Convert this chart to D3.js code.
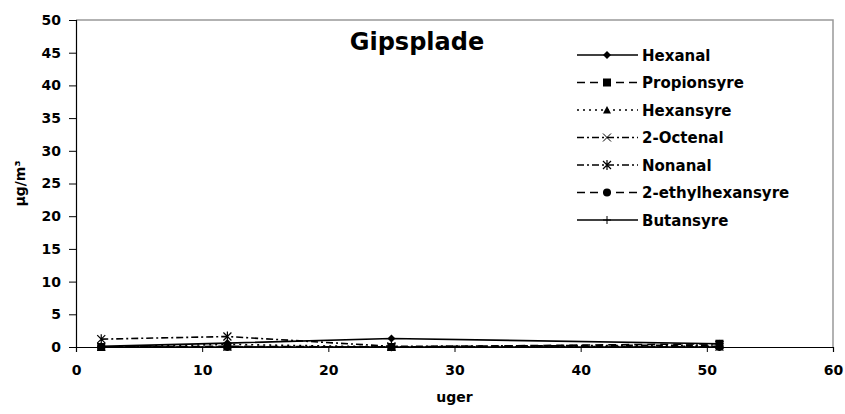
<!DOCTYPE html>
<html>
<head>
<meta charset="utf-8">
<script src="https://cdn.jsdelivr.net/npm/d3@7"></script>
<style>
  body { margin: 0; background: #fff; }
  text { font-family: "DejaVu Sans", Arial, sans-serif; font-weight: bold; }
</style>
</head>
<body>
<svg id="chart" width="845" height="414"></svg>
<script>
// weeks measured
const weeks = [2, 12, 25, 51];

// series values (µg/m³)
const hexanal = [0.1, 0.6, 1.3, 0.5];
const propionsyre = [0.0, 0.1, 0.0, 0.5];
const hexansyre = [0.0, 0.4, 0.0, 0.1];
const octenal = [0.0, 0.0, 0.0, 0.0];
const nonanal = [1.2, 1.6, 0.1, 0.3];
const ethylhexansyre = [0.0, 0.0, 0.0, 0.0];
const butansyre = [0.0, 0.0, 0.0, 0.0];

const xTicks = [0, 10, 20, 30, 40, 50, 60];
const yTicks = [0, 5, 10, 15, 20, 25, 30, 35, 40, 45, 50];

const series = [
  { name: "Hexanal", values: hexanal, dash: null, marker: "diamond" },
  { name: "Propionsyre", values: propionsyre, dash: "8,5", marker: "square" },
  { name: "Hexansyre", values: hexansyre, dash: "2,4", marker: "triangle" },
  { name: "2-Octenal", values: octenal, dash: "7,3,2,3", marker: "x" },
  { name: "Nonanal", values: nonanal, dash: "7,3,2,3", marker: "star" },
  { name: "2-ethylhexansyre", values: ethylhexansyre, dash: "8,5", marker: "circle" },
  { name: "Butansyre", values: butansyre, dash: null, marker: "plus" }
];

const svg = d3.select("#chart");
const margin = { top: 20, right: 12, bottom: 67, left: 76 };
const W = 845, H = 414;
const x = d3.scaleLinear().domain([0, 60]).range([margin.left, W - margin.right]);
const y = d3.scaleLinear().domain([0, 50]).range([H - margin.bottom, margin.top]);

// plot frame (gray top & right)
svg.append("path")
  .attr("d", `M${x(0)},${y(50)}H${x(60)}V${y(0)}`)
  .attr("fill", "none").attr("stroke", "#999").attr("stroke-width", 1.5);

// axes
const yAxis = svg.append("g")
  .attr("transform", `translate(${x(0)},0)`)
  .call(d3.axisLeft(y).tickValues(yTicks).tickSize(7).tickPadding(8));
const xAxis = svg.append("g")
  .attr("transform", `translate(0,${y(0)})`)
  .call(d3.axisBottom(x).tickValues(xTicks).tickSize(5).tickPadding(13));
[xAxis, yAxis].forEach(a => {
  a.select(".domain").attr("stroke", "#000").attr("stroke-width", 1.2);
  a.selectAll(".tick line").attr("stroke", "#000");
  a.selectAll(".tick text").attr("font-size", 14).attr("fill", "#000")
    .style("font-family", "DejaVu Sans, Arial, sans-serif").style("font-weight", "bold");
});

// axis titles
svg.append("text").attr("x", (x(0) + x(60)) / 2).attr("y", 402)
  .attr("text-anchor", "middle").attr("font-size", 14).text("uger");
svg.append("text")
  .attr("transform", `translate(25,${(y(0) + y(50)) / 2}) rotate(-90)`)
  .attr("text-anchor", "middle").attr("font-size", 14)
  .text("µg/m³");

// chart title
svg.append("text").attr("x", 417).attr("y", 50)
  .attr("text-anchor", "middle").attr("font-size", 24).text("Gipsplade");

function drawMarker(g, type, cx, cy) {
  const s = 4;
  if (type === "diamond") {
    g.append("path").attr("d", `M${cx},${cy - s}L${cx + s},${cy}L${cx},${cy + s}L${cx - s},${cy}Z`).attr("fill", "#000");
  } else if (type === "square") {
    g.append("rect").attr("x", cx - s).attr("y", cy - s).attr("width", 2 * s).attr("height", 2 * s).attr("fill", "#000");
  } else if (type === "triangle") {
    g.append("path").attr("d", `M${cx},${cy - s}L${cx + s},${cy + s - 0.5}L${cx - s},${cy + s - 0.5}Z`).attr("fill", "#000");
  } else if (type === "circle") {
    g.append("circle").attr("cx", cx).attr("cy", cy).attr("r", s).attr("fill", "#000");
  } else if (type === "x") {
    g.append("path").attr("d", `M${cx - s},${cy - s}L${cx + s},${cy + s}M${cx - s},${cy + s}L${cx + s},${cy - s}`).attr("stroke", "#000").attr("stroke-width", 1);
  } else if (type === "star") {
    g.append("path").attr("d", `M${cx - s},${cy - s}L${cx + s},${cy + s}M${cx - s},${cy + s}L${cx + s},${cy - s}M${cx},${cy - s - 1}V${cy + s + 1}`).attr("stroke", "#000").attr("stroke-width", 1.2);
  } else if (type === "plus") {
    g.append("path").attr("d", `M${cx - s},${cy}H${cx + s}M${cx},${cy - s}V${cy + s}`).attr("stroke", "#000").attr("stroke-width", 1);
  }
}

const line = d3.line().x((d, i) => x(weeks[i])).y(d => y(d));

// lines & markers
series.forEach(s => {
  const g = svg.append("g");
  g.append("path").attr("d", line(s.values))
    .attr("fill", "none").attr("stroke", "#000").attr("stroke-width", 1.6)
    .attr("stroke-dasharray", s.dash);
  s.values.forEach((v, i) => drawMarker(g, s.marker, x(weeks[i]), y(v)));
});

// legend
const legend = svg.append("g");
series.forEach((s, i) => {
  const ly = 55 + i * 27.5;
  const g = legend.append("g");
  g.append("line").attr("x1", 577).attr("x2", 638).attr("y1", ly).attr("y2", ly)
    .attr("stroke", "#000").attr("stroke-width", 1.6).attr("stroke-dasharray", s.dash);
  drawMarker(g, s.marker, 607, ly);
  g.append("text").attr("x", 642).attr("y", ly + 5.5).attr("font-size", 15).text(s.name);
});
</script>
</body>
</html>
